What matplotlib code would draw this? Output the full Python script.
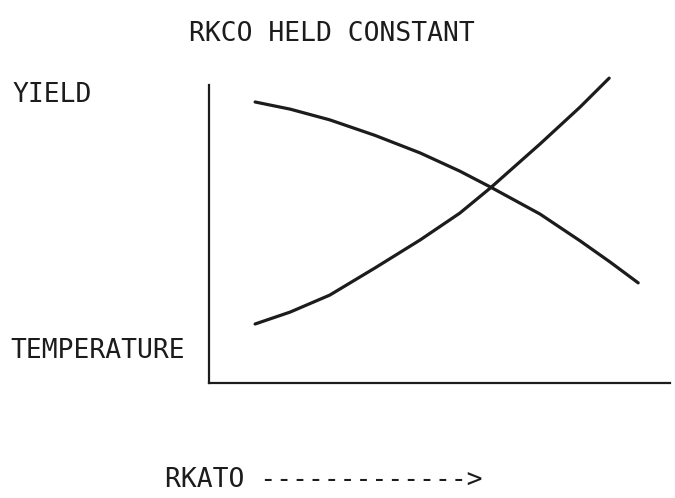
import matplotlib
matplotlib.use("Agg")
import matplotlib.pyplot as plt

# Data (arbitrary units: x = RKATO, y = response)
yield_x = [10.0, 17.6, 26.2, 36.0, 45.8, 54.4, 61.0, 71.8, 80.5, 87.0, 93.1]
yield_y = [94.3, 91.9, 88.3, 83.1, 77.2, 71.1, 65.8, 56.7, 47.7, 40.6, 33.6]
temp_x = [10.0, 17.6, 26.2, 36.0, 45.8, 54.4, 61.0, 71.8, 80.5, 86.8]
temp_y = [19.8, 23.8, 29.5, 38.6, 48.0, 57.0, 65.4, 80.2, 92.6, 102.3]

title = "RKCO HELD CONSTANT"
label_top = "YIELD"
label_bottom = "TEMPERATURE"
xlabel = "RKATO ------------->"

W, H = 675, 498
fig = plt.figure(figsize=(W / 100, H / 100), dpi=100)
fig.patch.set_facecolor("white")

# axes: left spine at px 209, right end px 670, y=0 at px 383, y=100 at px 85, top of axes px 70
ax = fig.add_axes([209 / W, (H - 383) / H, (670 - 209) / W, (383 - 70) / H])
ax.set_xlim(0, 100)
ax.set_ylim(0, 100 * (383 - 70) / (383 - 85))

ink = "#1c1c1c"
ax.plot(yield_x, yield_y, color=ink, lw=2.3, solid_capstyle="round",
        solid_joinstyle="round", clip_on=False)
ax.plot(temp_x, temp_y, color=ink, lw=2.3, solid_capstyle="round",
        solid_joinstyle="round", clip_on=False)

for s in ["top", "right"]:
    ax.spines[s].set_visible(False)
ax.spines["left"].set_bounds(0, 100)
for s in ["left", "bottom"]:
    ax.spines[s].set_linewidth(1.6)
    ax.spines[s].set_color(ink)
ax.set_xticks([])
ax.set_yticks([])
ax.patch.set_alpha(0)

font = dict(family="DejaVu Sans Mono", size=19, color=ink)
fig.text(331.5 / W, 1 - 41 / H, title, ha="center", va="baseline", **font)
fig.text(13 / W, 1 - 102 / H, label_top, ha="left", va="baseline", **font)
fig.text(10 / W, 1 - 358 / H, label_bottom, ha="left", va="baseline", **font)
fig.text(165 / W, 1 - 487 / H, xlabel, ha="left", va="baseline", **font)

fig.savefig("out.png", dpi=100)
